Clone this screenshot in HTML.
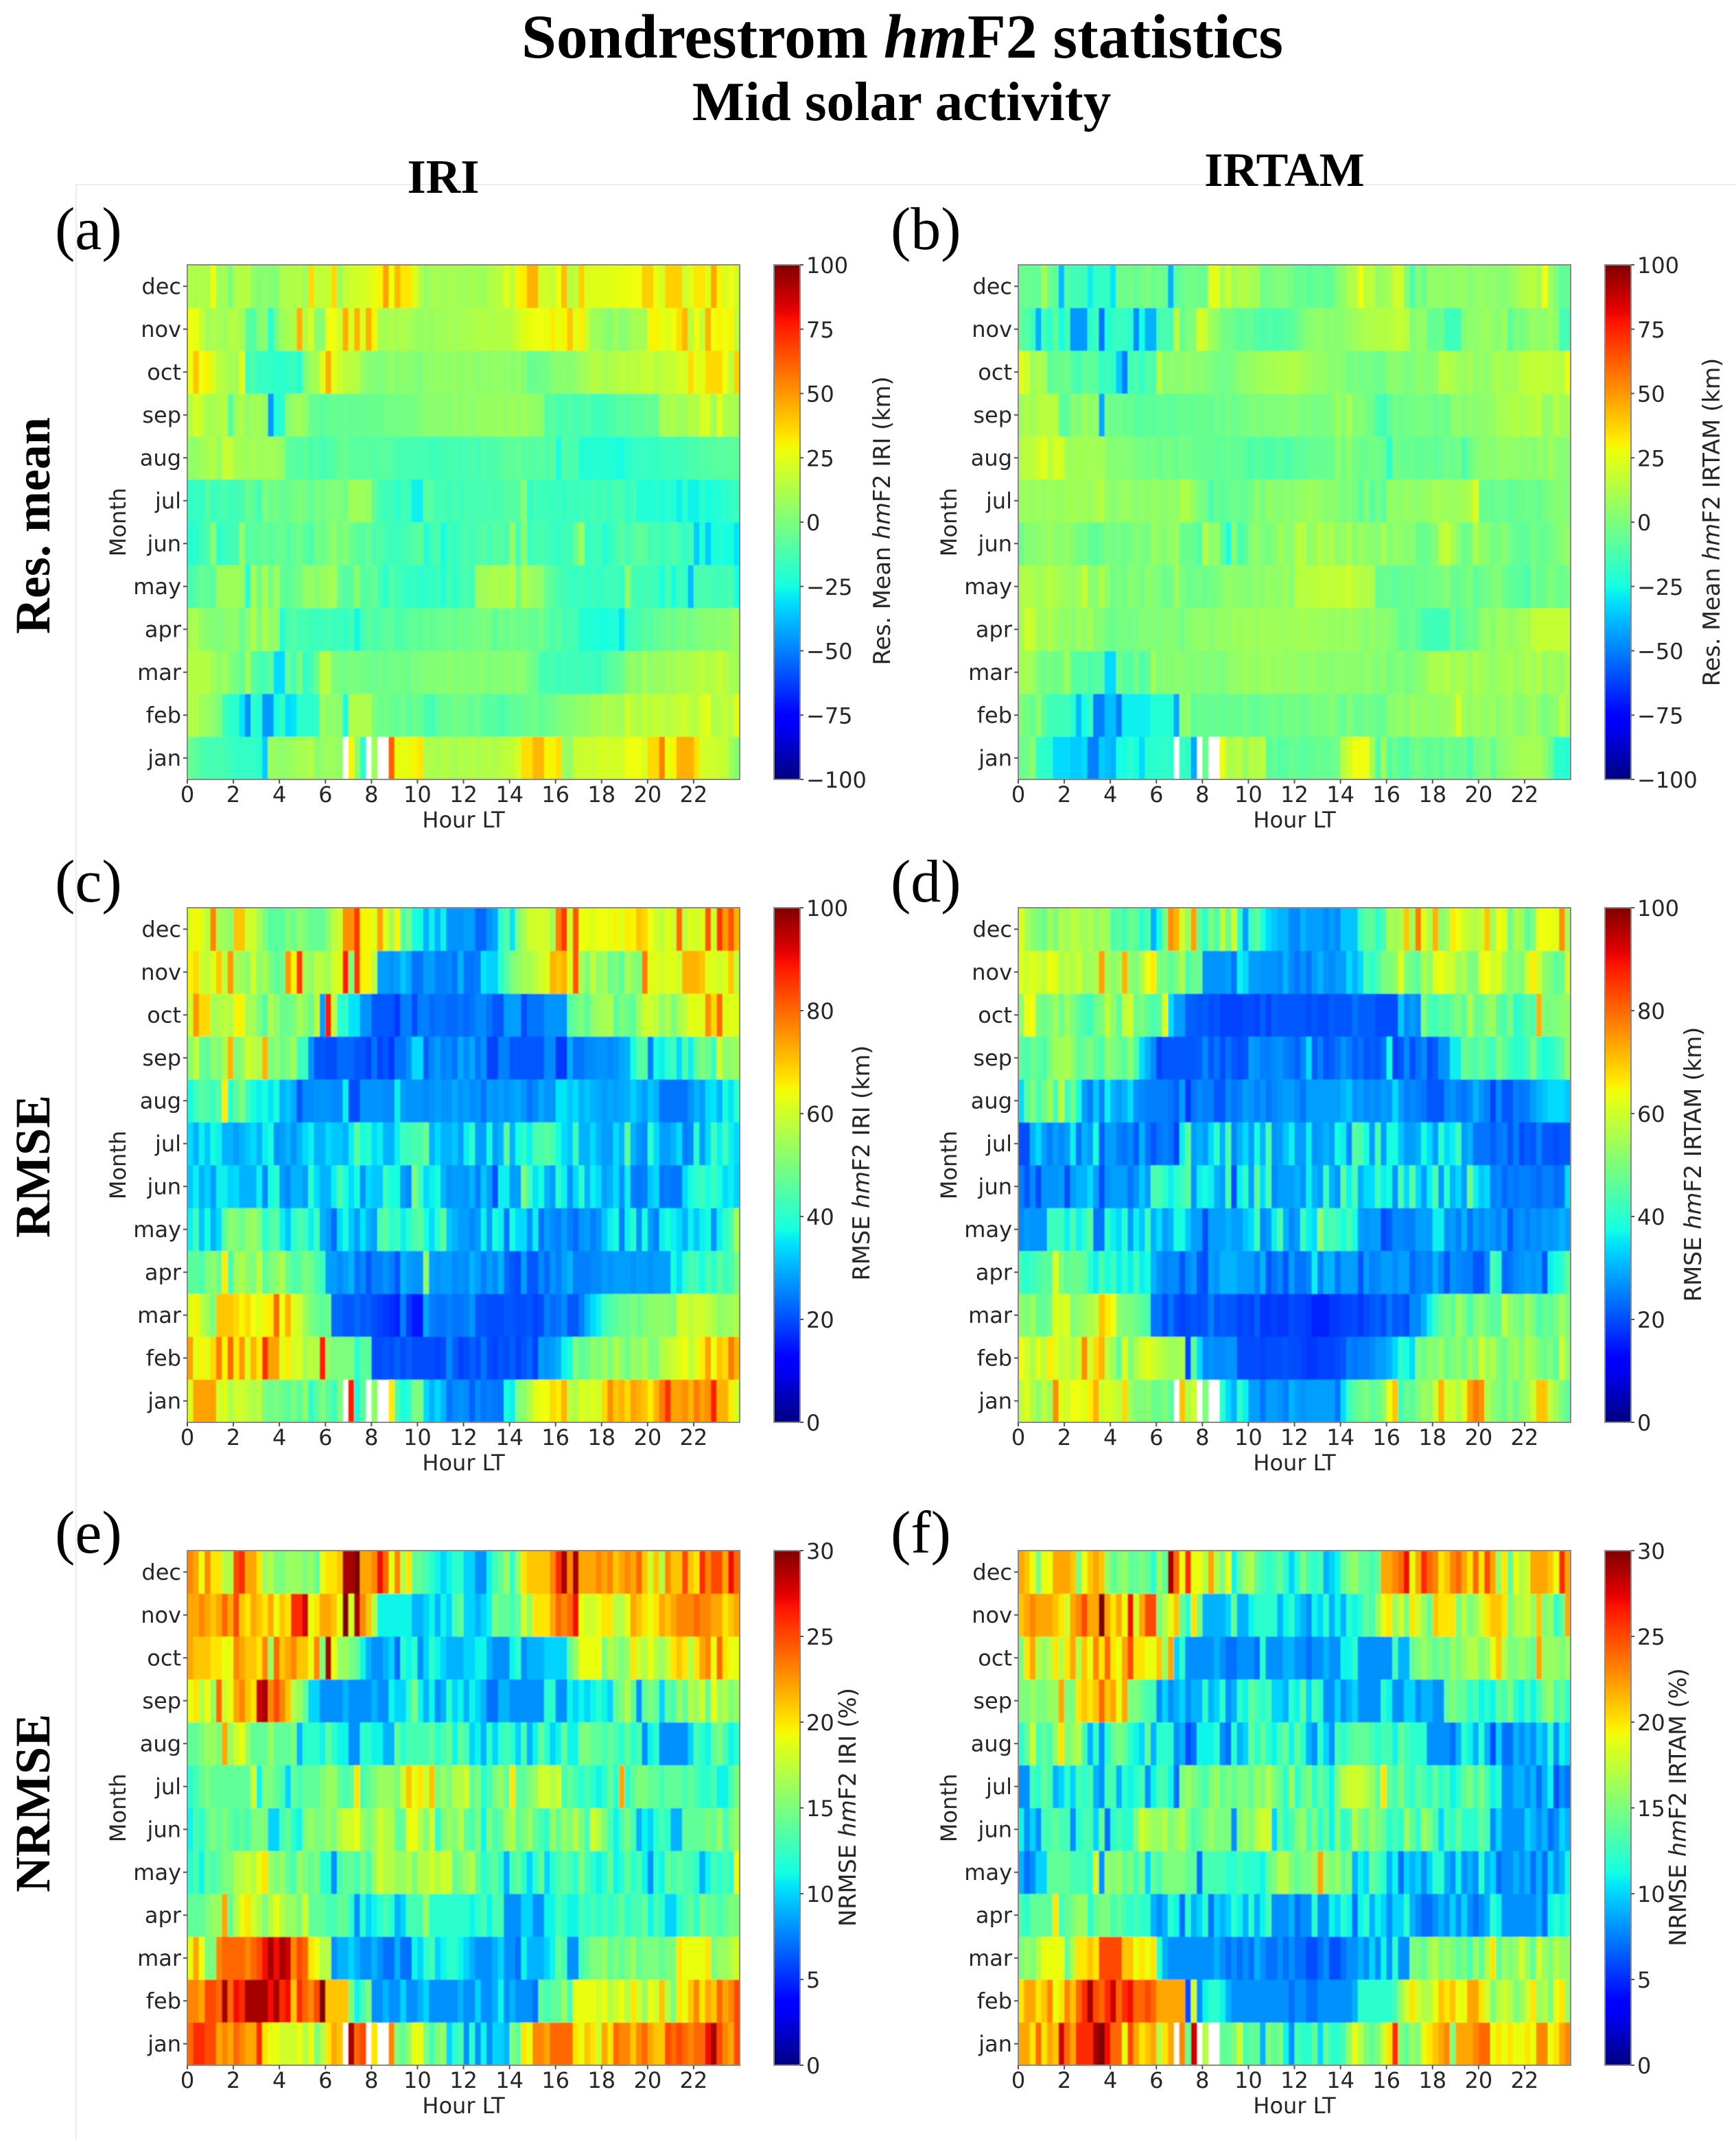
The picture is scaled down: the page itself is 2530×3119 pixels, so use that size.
<!DOCTYPE html>
<html lang="en">
<head>
<meta charset="utf-8">
<title>Sondrestrom hmF2 statistics</title>
<style>
html,body{margin:0;padding:0;background:#fff}
svg{display:block}
.serif{font-family:"Liberation Serif",serif;fill:#000}
.sans{font-family:"DejaVu Sans",sans-serif;fill:#262626}
</style>
</head>
<body>
<svg id="figure" xmlns="http://www.w3.org/2000/svg" width="2530" height="3119" viewBox="0 0 2530 3119">
<defs>
<filter id="soft" x="-2%" y="-2%" width="104%" height="104%"><feGaussianBlur stdDeviation="0.9"/></filter>
</defs>
<rect x="0" y="0" width="2530" height="3119" fill="#fff"/>
<path d="M111 3119V269H2530" fill="none" stroke="#ececec" stroke-width="2"/>
<text class="serif" x="1315" y="84" font-size="91.5" font-weight="bold" text-anchor="middle">Sondrestrom <tspan font-style="italic">hm</tspan>F2 statistics</text>
<text class="serif" x="1314" y="175" font-size="81" font-weight="bold" text-anchor="middle">Mid solar activity</text>
<text class="serif" x="646" y="281" font-size="70" font-weight="bold" text-anchor="middle">IRI</text>
<text class="serif" x="1872" y="271" font-size="70" font-weight="bold" text-anchor="middle">IRTAM</text>
<text class="serif" transform="translate(72,766) rotate(-90)" font-size="72" font-weight="bold" text-anchor="middle">Res. mean</text>
<text class="serif" transform="translate(72,1700) rotate(-90)" font-size="72" font-weight="bold" text-anchor="middle">RMSE</text>
<text class="serif" transform="translate(72,2628) rotate(-90)" font-size="72" font-weight="bold" text-anchor="middle">NRMSE</text>
<text class="serif" x="80" y="363" font-size="88">(a)</text>
<text class="serif" x="1298" y="363" font-size="88">(b)</text>
<text class="serif" x="80" y="1314" font-size="88">(c)</text>
<text class="serif" x="1298" y="1314" font-size="88">(d)</text>
<text class="serif" x="80" y="2263" font-size="88">(e)</text>
<text class="serif" x="1298" y="2263" font-size="88">(f)</text>
<g id="panels"></g>
<text class="sans" transform="translate(1297,759) rotate(-90)" font-size="33.6" text-anchor="middle">Res. Mean <tspan font-style="italic">hm</tspan>F2 IRI (km)</text>
<text class="sans" transform="translate(2506,761) rotate(-90)" font-size="33.6" text-anchor="middle">Res. Mean <tspan font-style="italic">hm</tspan>F2 IRTAM (km)</text>
<text class="sans" transform="translate(1267,1695) rotate(-90)" font-size="33.6" text-anchor="middle">RMSE <tspan font-style="italic">hm</tspan>F2 IRI (km)</text>
<text class="sans" transform="translate(2479,1697) rotate(-90)" font-size="33.6" text-anchor="middle">RMSE <tspan font-style="italic">hm</tspan>F2 IRTAM (km)</text>
<text class="sans" transform="translate(1247,2634) rotate(-90)" font-size="33.6" text-anchor="middle">NRMSE <tspan font-style="italic">hm</tspan>F2 IRI (%)</text>
<text class="sans" transform="translate(2457,2634) rotate(-90)" font-size="33.6" text-anchor="middle">NRMSE <tspan font-style="italic">hm</tspan>F2 IRTAM (%)</text>
</svg>
<script>
const N = null;
const monthLabels = ['jan','feb','mar','apr','may','jun','jul','aug','sep','oct','nov','dec'];
const hourTickLabels = [0,2,4,6,8,10,12,14,16,18,20,22];
const resMeanTicks = [-100,-75,-50,-25,0,25,50,75,100];
const rmseTicks = [0,20,40,60,80,100];
const nrmseTicks = [0,5,10,15,20,25,30];

/* (a) Res. mean IRI, km */
const a_dec=[13,12,12,12, 27,8,10,0, 13,14,14,5, 2,4,2,2, 12,12,12,14, 8,36,17,17, 18,36,8,17, 20,20,22,23, 26,30,48,28, 43,33,33,24, 14,6,10,10, 9,10,10,9, 8,10,9,8, 12,14,15,25, 16,30,32,44, 44,21,21,18, 28,42,14,17, 38,23,24,24, 25,25,26,26, 27,28,28,38, 38,27,22,38, 38,38,20,25, 33,33,24,47, 30,22,28,20];
const a_nov=[28,27,18,8, 12,10,8,14, 13,10,-8,-10, 2,3,-22,-2, 8,10,12,45, 14,22,3,3, 28,28,20,45, 22,44,22,45, 30,10,10,12, 10,12,10,8, 6,8,6,9, 8,10,9,10, 11,12,12,14, 12,13,14,13, 15,20,24,26, 28,28,26,32, 26,30,40,24, 32,18,8,8, 4,3,8,3, 4,10,10,10, 30,30,26,24, 28,35,43,15, 28,18,44,28, 30,28,30,16];
const a_oct=[28,40,28,30, 22,15,12,10, 10,25,-14,-12, -18,-17,-18,-20, -20,-18,-16,-22, 0,8,10,25, 45,25,20,15, 15,14,5,3, 2,0,3,5, 2,4,3,2, 0,5,4,6, 5,5,6,4, 5,6,3,5, 4,6,4,5, 3,6,2,-5, -4,-3,-2,2, 3,4,3,5, 8,10,14,14, 10,12,13,16, 14,16,15,18, 18,14,16,18, 18,22,22,35, 25,25,36,36, 36,28,16,38];
const a_sep=[14,22,18,10, 10,12,14,-10, 8,12,5,8, 10,5,-45,-22, -20,3,6,10, 5,-5,-6,-8, -6,-5,-6,-5, -6,-4,-6,-4, -5,-4,-3,-2, -2,-2,-1,-2, 2,3,4,3, 4,3,5,4, 5,4,6,6, 7,6,8,5, 8,6,8,6, 5,4,-10,-9, -13,-12,-10,-14, -12,-10,-14,-15, -14,-12,-10,-8, -10,-7,-8,-6, -5,-7,10,10, 12,8,9,14, 12,22,22,8, 25,12,12,10];
const a_aug=[5,6,8,10, 14,6,18,18, 10,9,8,10, 8,9,10,8, 6,-8,-9,-10, -7,-12,-10,-14, -11,-10,-6,-5, -9,-8,-9,-8, -10,-9,-8,-10, -12,-14,-12,-13, -14,-13,-16,-15, -14,-13,-12,-14, -13,-11,-14,-10, -12,-11,-9,-7, -8,-6,-9,-8, -10,-8,-11,-7, -25,-10,-12,-12, -22,-22,-22,-21, -22,-22,-23,-25, -20,-18,-17,-16, -18,-17,-16,-15, -16,-15,-14,-12, -12,-10,-10,-9, -8,-9,-8,-8];
const a_jul=[-18,-17,-18,-9, -16,-14,-12,-16, -14,-12,-5,-8, -14,0,-4,-2, -6,-4,-2,0, -2,-6,-1,-2, 0,2,0,-2, 8,9,8,7, -6,-14,-16,-14, -20,-14,-17,-28, -28,-8,-10,-14, -13,-16,-12,-15, -12,-14,-12,-14, -11,-13,-12,-8, -10,-8,2,-18, -14,-16,-15,-17, -16,-18,-15,-17, -14,-16,-13,-15, -14,-16,-12,-13, -18,-14,-22,-22, -22,-20,-23,-20, -22,-28,-20,-27, -27,-20,-24,-22, -22,-20,-18,-16];
const a_jun=[-22,-20,-15,-12, 3,-20,-16,-14, -14,5,-10,-8, -8,-6,-8,-6, -4,-10,-6,-3, -8,-12,-2,-4, 0,5,-2,2, -4,-8,-10,-6, -12,-10,-14,-16, -16,-14,-12,-10, -7,-22,-14,-12, -25,-15,-18,-14, -12,-14,-11,-9, -14,-8,-10,-12, 6,-14,4,-16, -14,-12,-14,-16, -18,-14,-16,-4, 8,-18,-16,-14, -22,-18,-14,-8, -14,-10,-6,-8, -14,-12,-16,-14, -10,-14,-18,-15, -35,-22,-35,-24, -22,-25,-24,-30];
const a_may=[-12,-10,-5,-7, -8,7,8,9, 8,6,-20,10, -2,10,-2,8, -6,-8,-4,-2, 5,6,3,7, 8,10,-6,-10, -8,4,-10,-8, -6,-14,-20,-10, -14,-16,-18,-17, -20,-18,-18,-16, -22,-14,-20,-14, -12,-16,8,9, 10,12,10,11, 14,-2,12,8, 6,5,-6,-8, -12,-14,-16,-17, -15,-18,-16,-18, -16,-15,-14,-18, 4,-12,-16,-14, -14,-16,-24,-12, -24,-15,-18,-38, -12,-13,-12,-14, -15,-14,-12,-25];
const a_apr=[10,12,5,3, 2,0,3,4, 5,-5,3,12, 0,12,4,6, -22,-12,-10,-14, -13,-15,-16,-15, -14,-16,-15,-18, -14,-26,-14,-8, -12,-10,-8,-7, -12,-10,-8,-6, -8,-4,-7,-5, -4,-3,-6,-2, -4,-2,-3,0, -1,-8,-2,-4, -2,-4,-3,-5, -6,-3,-7,-12, -8,-14,-12,-14, -22,-22,-22,-23, -24,-23,-22,-30, -16,-14,-12,-8, -10,-6,-5,-2, -4,-1,0,-3, 0,2,3,2, 4,3,6,8];
const a_mar=[14,14,14,14, 8,4,8,2, -2,-6,8,-8, -12,-14,-8,-32, -32,-6,-14,0, -18,-14,-4,14, 14,0,-2,-2, 0,-1,-2,-3, -4,-2,-4,-2, -3,-2,-4,0, 0,2,1,3, 1,4,2,3, 1,3,2,3, 0,3,1,4, 2,4,3,-2, -4,-12,-14,-13, -15,-14,-16,-14, -16,-15,-16,-17, -12,-8,-8,-5, 3,6,2,10, 4,7,6,10, 8,12,10,12, 14,16,12,14, 18,14,10,10];
const a_feb=[13,13,8,6, 4,0,-15,-20, -20,-30,-47,-20, -22,-45,-45,-25, -18,-32,-30,-20, -20,-20,-18,8, 4,5,3,-25, 12,13,12,12, 0,-4,-2,-5, -6,-3,-8,-4, -6,-12,-14,-8, -4,-6,-2,-3, -4,-6,-3,-8, -10,-8,-12,-10, -6,-8,-5,-4, -3,-6,-4,-3, 0,2,1,4, 6,5,10,8, 12,10,11,9, 20,14,12,17, 15,18,16,14, 16,18,20,16, 14,22,25,12, 14,18,13,25];
const a_jan=[-5,-8,-12,-13, -14,-12,-14,-15, -18,-18,-18,-18, -20,-35,8,6, 4,6,8,10, 10,14,3,6, 8,8,5,N, 30,5,-20,N, 8,N,N,62, 26,26,26,30, 33,12,12,10, 14,12,10,13, 12,14,11,13, 14,12,15,16, 17,22,35,35, 43,43,30,30, 35,8,5,18, 19,20,18,21, 22,20,22,21, 28,28,28,22, 36,36,55,27, 30,45,45,45, 35,22,20,20, 18,18,8,3];

/* (b) Res. mean IRTAM, km */
const b_dec=[-5,-4,-6,-6, 10,-4,-8,-38, -10,-14,-14,-16, -28,-18,-18,-18, -30,-2,-4,-2, -6,-2,0,-4, -3,-5,-40,-8, -5,-2,-3,-4, -5,25,25,10, 20,8,12,14, 10,9,-3,-2, 0,2,0,-2, -6,-4,-8,-6, -4,-8,-6,2, 4,12,13,28, 15,16,6,8, 10,20,20,2, -12,2,-5,6, 4,6,4,5, 6,6,2,5, 6,4,5,3, 2,6,8,12, 14,15,10,28, 8,0,-8,-6];
const b_nov=[-8,-10,-16,-40, -14,-20,-8,-24, -14,-45,-45,-45, -20,-16,-52,-22, -18,-16,-18,-20, -47,-25,-40,-40, -14,-12,-14,15, -5,0,2,22, 18,8,6,-2, -2,-4,-8,-6, -6,-10,-12,-10, -12,-11,-9,-8, -5,0,3,4, 6,2,4,3, 5,6,8,10, 12,12,14,13, 14,16,18,14, 2,4,6,-6, -6,-4,-15,-16, -15,2,5,4, 6,8,4,3, 8,-8,0,-2, 3,6,4,5, 8,3,-14,-14];
const b_oct=[25,20,8,12, 10,-8,-5,-4, -3,-10,-14,-6, -8,-8,-18,-16, -18,-35,-50,-14, -12,-18,-10,-12, 14,2,5,3, 4,6,3,4, 2,0,-2,-3, -2,0,4,5, 6,8,9,10, 10,12,11,13, 12,10,8,6, 7,5,3,4, 2,-2,0,-3, -1,-2,-4,-3, 3,4,2,-1, 0,5,3,2, 4,14,14,12, 8,7,10,4, 6,4,8,12, 8,10,10,15, 17,17,17,17, 16,15,14,27];
const b_sep=[8,12,8,14, 15,15,15,-8, -8,3,0,8, 4,6,-42,-2, -5,-3,-6,-4, -8,-9,-7,-8, -6,-6,-8,-6, -4,-6,-5,-4, -4,-6,-3,-5, -2,-4,-3,-1, 0,1,-1,2, 0,2,1,3, 2,-1,1,-2, 0,-1,1,8, 2,10,1,3, -2,-4,-12,-15, -8,-2,-4,-3, -2,-1,0,-2, -4,-2,-5,3, 5,2,4,3, 4,5,6,10, 10,12,14,10, 12,14,16,5, 6,14,8,10];
const b_aug=[13,15,16,20, 25,15,22,22, 9,8,10,9, 10,9,10,4, 2,3,1,2, -1,-2,-3,-1, -4,-3,-2,-4, -2,-3,-5,-4, -6,-5,-7,-6, -5,-7,-6,-9, -12,-8,-10,-12, -10,-8,-12,-10, -7,-8,-6,-5, -6,-4,-5,4, -2,3,-2,-4, -5,-2,-3,-6, -20,-3,-4,-6, -4,-7,-6,-5, -7,-6,-3,-5, -2,-12,-4,1, 3,4,2,5, 6,4,5,3, 4,2,5,3, 8,4,2,3];
const b_jul=[7,8,6,8, 6,8,7,6, 9,10,8,9, 7,11,14,6, 3,5,7,6, 3,5,4,6, 5,3,6,4, 12,13,4,0, -3,-12,-5,-8, -6,-4,-5,-6, -2,4,-2,6, 3,2,4,3, 5,6,8,7, 6,3,4,2, -1,2,-2,-8, 1,-9,-2,-8, 6,5,4,7, 5,4,6,7, 10,9,8,7, 8,10,12,24, -5,-4,-6,-3, -5,-7,-5,-4, -3,-4,-6,-2, 0,2,3,1];
const b_jun=[-5,3,2,4, 5,8,4,3, 6,2,-2,-1, -6,-8,-4,0, -3,-1,-4,-2, 2,0,-2,6, 4,2,5,7, -5,-4,-6,-10, 13,3,6,-8, -25,3,-12,-8, 3,5,0,-2, 3,9,4,3, 14,15,4,7, 13,8,12,4, 6,11,2,8, 4,3,2,10, 2,5,4,2, 3,-4,-6,-2, 2,15,18,10, 3,-5,-2,12, 4,3,-2,-1, 3,-3,-6,-8, -7,-2,-4,-6, -2,0,3,5];
const b_may=[12,13,12,9, 11,14,12,8, 8,5,9,18, 4,3,12,5, -3,0,-2,3, 2,-2,4,2, 0,-4,-3,7, 0,-5,-3,-2, -4,-2,-1,3, 5,4,4,2, 3,5,3,7, 4,5,8,2, 14,15,14,15, 17,17,16,17, 17,20,15,14, 13,12,-6,-4, -5,-8,-6,-4, -6,-2,-4,-3, -2,-1,2,-4, -6,-2,0,-8, -4,-2,0,2, -4,-7,-8,-9, -12,-2,-6,-4, 1,-3,-5,-2];
const b_apr=[10,20,18,9, 8,12,8,4, 6,2,8,5, 10,2,2,-3, -4,-2,-1,-3, -1,2,1,2, 0,3,2,1, -2,3,4,5, 6,3,5,7, 5,8,7,9, 8,7,10,8, 9,8,7,9, 8,10,8,9, 7,8,6,8, 6,8,7,5, 2,6,3,4, 2,0,-7,-6, -3,-8,-14,-14, -16,-14,-15,-2, -10,-6,-3,-4, 4,6,3,8, 8,6,7,10, 10,16,18,18, 17,18,18,17];
const b_mar=[10,10,8,0, -3,-1,-4,-1, 8,-8,-10,-8, -12,-9,-10,-32, -32,-4,-8,-10, -2,-12,-6,8, 0,3,2,4, 3,2,1,3, 0,2,1,-1, 4,5,6,8, 7,6,7,8, 6,8,5,7, 6,4,5,6, 3,4,2,4, 4,3,4,2, 5,3,1,4, -2,0,3,-2, 0,2,4,10, 12,10,14,8, 12,10,6,13, 9,7,5,8, 9,11,6,8, 12,8,14,5, 10,8,6,12];
const b_feb=[0,-2,-6,4, -8,-15,-15,-15, -15,-20,-38,-25, -18,-50,-50,-38, -38,-50,-28,-28, -28,-28,-28,-22, -22,-22,-22,-42, 3,5,-8,-4, -5,-6,-4,-6, -5,-4,-6,-2, -6,-7,-5,-4, -2,-6,-1,-3, -2,-5,-3,0, -2,-1,3,-3, -6,1,-4,-5, -2,-3,-5,-6, 3,4,6,2, 8,4,6,5, 4,7,6,10, 22,8,5,9, 6,5,8,3, 6,8,3,2, 6,10,4,-2, 3,4,16,8];
const b_jan=[-5,-3,4,-18, -20,-20,-32,-32, -32,-35,-35,-32, -50,-50,-35,-38, -40,-25,-25,-20, -24,-32,-20,-20, -20,-18,-20,N, -18,-18,-42,N, -5,N,N,28, 12,12,15,6, 14,12,16,-8, -6,-10,-8,-5, -6,-9,-7,-6, -4,-6,-5,-2, 15,20,28,28, 28,10,-10,8, -10,-4,-10,-12, -5,-2,-6,-8, -4,-8,-2,-5, -6,-4,-12,-2, 0,3,-6,2, 4,6,8,10, 10,10,10,4, -4,-20,-20,-22];

/* (c) RMSE IRI, km */
const c_dec=[62,65,62,58, 77,55,54,52, 70,70,60,60, 55,50,45,46, 46,50,48,52, 50,47,47,47, 52,58,60,76, 76,85,65,65, 62,74,62,55, 65,45,48,38, 38,30,36,30, 36,27,27,27, 28,28,23,23, 27,29,40,45, 35,50,55,60, 60,61,60,55, 78,85,60,82, 64,63,62,64, 64,63,65,62, 66,65,70,68, 64,60,58,62, 60,80,58,62, 60,62,82,60, 85,75,82,72];
const c_nov=[65,68,60,58, 62,70,58,75, 55,54,52,60, 52,55,50,46, 48,75,65,85, 55,52,58,56, 55,60,62,88, 50,85,65,65, 58,28,28,27, 28,32,29,24, 24,28,28,25, 25,26,24,30, 24,24,25,35, 33,33,40,45, 50,52,55,55, 58,60,62,72, 70,72,62,82, 55,50,58,52, 55,48,50,46, 55,52,50,78, 62,62,60,62, 62,60,72,72, 72,70,62,62, 60,62,70,58];
const c_oct=[60,75,68,68, 55,56,58,56, 65,65,55,55, 50,45,56,52, 48,48,50,55, 52,48,58,28, 88,58,40,40, 35,35,27,27, 21,21,21,21, 18,25,25,20, 25,25,23,24, 24,23,23,24, 23,24,26,26, 24,21,21,28, 28,28,20,24, 24,24,27,27, 27,27,45,48, 50,46,52,54, 55,56,46,50, 48,46,54,60, 60,58,52,56, 50,55,58,63, 62,62,76,68, 80,62,62,62];
const c_sep=[52,58,48,46, 52,50,56,72, 50,52,60,58, 56,72,50,52, 48,50,54,42, 42,27,21,21, 20,20,23,23, 23,21,21,19, 24,19,21,18, 24,24,27,34, 34,22,26,28, 25,26,24,29, 26,29,24,27, 19,19,25,25, 21,21,21,21, 21,21,26,26, 18,18,29,24, 24,26,26,27, 27,26,27,29, 30,38,45,46, 25,38,36,40, 42,34,44,36, 46,50,48,42, 60,52,52,54];
const c_aug=[38,42,46,44, 42,45,66,40, 46,50,42,38, 36,38,35,38, 30,32,29,21, 26,26,27,27, 27,26,26,36, 20,20,27,27, 27,27,26,26, 36,28,27,27, 27,26,27,28, 27,27,29,27, 28,26,27,24, 28,27,28,27, 28,29,27,24, 26,29,27,27, 35,35,32,34, 30,32,30,29, 28,29,28,29, 30,33,30,28, 32,30,24,24, 24,24,24,27, 30,28,34,35, 30,38,35,40];
const c_jun=[32,36,30,33, 28,36,36,33, 34,30,30,30, 36,26,38,40, 28,26,30,30, 28,40,34,30, 30,36,44,38, 34,38,27,34, 32,32,42,38, 38,28,26,50, 42,34,36,38, 30,27,28,28, 27,30,25,32, 28,20,36,36, 28,28,50,42, 35,38,30,28, 40,36,27,34, 40,30,36,34, 28,30,34,27, 36,25,24,25, 32,34,24,25, 24,24,34,38, 40,42,38,42, 38,34,36,33];
const c_jul=[34,30,36,32, 38,36,30,30, 28,30,32,34, 30,36,38,27, 28,30,27,30, 34,36,30,30, 34,32,32,30, 36,46,38,40, 34,36,30,30, 36,42,42,44, 44,48,30,34, 30,30,32,28, 36,40,28,28, 38,28,30,46, 30,38,40,36, 44,44,46,44, 38,34,32,42, 30,30,34,30, 28,28,34,30, 46,30,27,26, 40,34,28,28, 30,34,25,26, 40,28,34,42, 36,42,36,34];
const c_may=[36,42,32,38, 30,34,46,52, 50,48,52,54, 50,40,44,46, 36,32,40,44, 42,36,42,30, 28,23,34,38, 32,28,35,30, 28,44,46,40, 42,36,40,44, 46,38,34,40, 46,32,30,28, 28,26,28,36, 28,38,36,24, 38,34,34,27, 36,24,28,26, 25,28,25,23, 27,28,25,27, 32,36,38,25, 36,40,27,38, 28,25,36,38, 36,34,30,36, 32,36,38,27, 36,40,44,55];
const c_apr=[46,46,44,50, 52,48,66,44, 54,56,52,50, 58,46,50,52, 56,48,44,46, 50,48,44,42, 28,28,26,28, 30,24,26,21, 25,25,27,25, 21,30,28,27, 27,52,28,27, 28,28,26,27, 26,30,28,25, 28,26,30,23, 21,20,28,21, 21,26,23,27, 25,28,30,25, 25,25,26,26, 28,27,28,28, 28,27,28,28, 27,28,28,28, 38,34,40,44, 42,38,44,40, 46,42,44,50];
const c_mar=[62,65,58,54, 50,70,70,70, 68,65,68,64, 62,65,66,80, 64,72,62,60, 54,50,48,46, 48,23,23,21, 21,23,21,22, 20,19,18,17, 16,25,18,15, 15,29,25,24, 24,25,24,24, 25,27,21,21, 20,20,20,21, 21,20,20,21, 19,20,25,23, 24,26,21,21, 25,30,34,36, 42,44,46,48, 48,50,48,50, 52,52,52,52, 50,60,60,58, 60,60,58,56, 52,54,54,56];
const c_feb=[74,62,65,62, 68,78,65,80, 66,75,62,72, 66,86,74,74, 62,66,60,62, 55,58,56,88, 52,50,50,50, 50,40,46,46, 20,20,21,20, 22,20,22,20, 20,20,20,19, 20,26,22,19, 20,22,20,24, 20,19,21,20, 22,19,21,23, 19,28,27,28, 30,36,38,50, 46,48,52,50, 54,50,56,52, 48,54,52,56, 50,50,56,58, 60,62,64,58, 62,66,74,64, 70,68,78,72];
const c_jan=[62,74,74,74, 74,60,62,56, 60,60,58,56, 58,50,48,50, 48,46,50,46, 52,40,46,50, 46,42,50,N, 88,38,46,N, 52,N,N,66, 44,38,40,50, 50,34,30,34, 30,24,26,27, 26,22,26,24, 25,24,24,38, 36,50,52,56, 62,64,64,68, 66,72,58,56, 62,60,62,60, 68,76,70,72, 68,74,72,70, 66,72,78,86, 74,74,76,72, 78,74,76,88, 72,72,66,60];

/* (d) RMSE IRTAM, km */
const d_dec=[62,55,52,50, 48,54,50,56, 54,58,56,54, 56,52,55,54, 44,46,42,48, 46,40,44,30, 38,50,76,72, 60,54,74,46, 40,50,44,58, 48,60,40,28, 42,46,38,34, 32,30,30,26, 26,30,28,28, 28,26,28,26, 32,32,32,42, 46,46,40,44, 56,54,56,70, 54,78,62,56, 72,52,54,66, 64,60,58,56, 60,70,54,64, 62,48,56,54, 46,50,64,64, 64,62,76,55];
const d_nov=[62,60,62,60, 58,64,62,56, 58,56,60,54, 54,56,74,54, 52,54,72,52, 50,56,64,66, 50,50,46,50, 56,44,48,48, 27,27,27,27, 28,24,36,34, 28,28,27,27, 27,26,30,26, 24,27,24,28, 30,27,26,28, 28,34,30,34, 44,40,44,50, 50,52,62,50, 48,46,56,52, 62,64,60,60, 54,56,50,50, 62,64,60,62, 54,50,52,50, 60,66,60,52, 50,46,48,60];
const d_oct=[52,64,64,50, 48,50,54,48, 54,50,46,44, 42,48,50,58, 52,46,58,60, 48,50,46,44, 46,62,34,28, 28,22,22,21, 22,20,21,19, 19,19,19,20, 20,19,22,19, 22,21,21,21, 21,21,20,21, 20,20,22,21, 21,21,24,22, 22,22,20,20, 20,20,32,26, 28,26,50,44, 42,46,44,48, 50,46,56,48, 48,52,54,46, 44,50,40,42, 46,44,72,50, 50,50,52,52];
const d_sep=[46,44,48,46, 44,50,54,54, 56,52,46,48, 50,46,44,52, 50,48,46,52, 44,34,30,26, 19,21,21,21, 21,21,21,22, 26,21,24,20, 24,21,20,21, 28,27,25,25, 26,27,25,24, 22,26,34,22, 25,21,22,24, 27,25,22,24, 21,22,21,24, 38,19,21,26, 20,24,26,20, 22,27,27,36, 36,48,46,44, 48,44,42,50, 46,42,40,40, 44,50,42,38, 40,42,46,52];
const d_aug=[34,46,50,44, 48,54,44,58, 42,48,38,28, 25,32,26,36, 30,28,30,34, 27,26,25,25, 25,25,24,22, 28,18,24,26, 25,25,21,21, 26,24,25,28, 27,25,27,24, 26,27,28,28, 26,24,28,28, 28,28,28,28, 30,32,27,28, 26,27,26,28, 27,34,28,25, 26,25,24,21, 21,21,26,27, 25,24,26,30, 27,25,19,26, 21,21,25,24, 25,28,30,32, 34,34,34,32];
const d_jul=[20,20,30,34, 28,25,28,26, 28,36,24,30, 28,38,22,28, 28,25,24,26, 22,30,24,21, 24,25,24,19, 36,46,28,30, 28,34,40,30, 44,26,30,34, 28,38,30,44, 27,28,32,36, 28,28,36,27, 28,30,28,38, 36,26,46,44, 38,28,44,28, 38,38,32,28, 28,30,38,34, 28,40,34,36, 42,28,30,24, 24,24,22,24, 25,21,25,20, 22,21,25,21, 21,20,21,21];
const d_jun=[25,21,26,20, 27,27,27,28, 20,28,30,30, 34,28,20,27, 28,28,28,24, 27,32,28,44, 44,40,36,40, 42,46,27,36, 38,36,30,28, 44,20,36,40, 28,46,34,44, 26,28,28,28, 30,27,36,30, 28,42,30,27, 46,36,44,30, 34,34,42,36, 38,27,44,34, 46,34,28,36, 44,28,40,30, 34,28,48,36, 32,34,25,26, 23,25,24,25, 25,24,23,25, 25,23,24,34];
const d_may=[26,28,27,27, 27,42,42,42, 36,44,36,40, 46,24,24,40, 36,34,40,28, 36,32,42,30, 34,28,30,38, 38,32,28,28, 20,28,28,28, 30,28,28,32, 34,42,26,28, 36,44,30,26, 28,42,36,34, 52,42,44,42, 38,44,38,28, 27,28,28,20, 22,26,26,25, 25,28,28,28, 36,36,27,28, 25,30,24,28, 26,28,27,25, 28,21,26,27, 25,27,26,28, 27,28,30,28];
const d_apr=[42,40,42,44, 46,46,62,50, 46,48,48,46, 40,36,44,38, 42,36,40,36, 42,36,38,30, 27,25,26,26, 21,26,28,21, 20,28,27,30, 30,30,28,28, 28,25,30,21, 24,26,21,28, 24,24,26,36, 25,30,30,24, 28,28,28,21, 28,25,26,28, 28,26,28,28, 23,25,26,25, 30,26,21,27, 26,25,25,21, 21,26,44,40, 23,24,26,27, 28,27,28,21, 36,38,40,46];
const d_mar=[52,50,54,48, 46,50,62,60, 62,50,52,54, 56,58,70,66, 64,52,50,50, 48,46,44,24, 24,20,24,20, 19,20,21,20, 21,25,21,22, 21,21,19,20, 19,22,18,18, 19,18,18,20, 19,19,18,16, 16,16,18,18, 19,19,20,18, 20,21,22,20, 24,21,22,20, 26,26,30,36, 42,46,50,46, 54,50,44,50, 52,48,46,46, 58,52,50,48, 54,50,44,48, 46,50,54,50];
const d_feb=[64,60,56,62, 58,66,62,58, 60,56,60,76, 60,68,72,58, 54,46,62,50, 56,60,62,60, 58,56,54,54, 56,19,46,34, 26,27,26,26, 27,27,20,20, 20,20,19,20, 20,20,21,20, 20,19,18,18, 19,19,19,20, 21,25,24,25, 25,26,28,28, 30,34,40,38, 34,50,48,52, 50,54,48,50, 52,48,54,50, 60,54,56,50, 48,52,54,50, 56,54,50,48, 50,46,60,52];
const d_jan=[58,62,56,52, 58,54,76,62, 60,64,64,62, 66,72,60,62, 60,58,68,54, 50,50,52,48, 48,50,46,N, 70,56,60,N, 50,N,N,40, 34,30,40,36, 28,28,24,28, 28,27,25,30, 28,27,28,28, 28,28,28,24, 34,42,46,48, 50,46,48,52, 64,70,42,48, 46,50,54,52, 60,72,60,60, 56,62,74,78, 76,56,52,50, 48,52,48,52, 54,60,70,70, 58,54,50,46];

/* (e) NRMSE IRI, % */
const e_dec=[23,22,19,23, 20,20,17,17, 25,26,22,22, 20,16,17,15, 15,16,16,16, 15,16,14,19, 20,20,21,29, 29,30,22,22, 23,27,24,19, 23,17,20,14, 14,13,12,11, 10,11,12,12, 10,10,8,8, 11,13,14,16, 12,16,20,21, 21,21,21,23, 26,29,23,29, 22,22,22,23, 22,23,21,22, 23,22,24,21, 18,21,17,23, 21,21,25,21, 20,26,23,25, 25,22,27,24];
const e_nov=[22,22,23,22, 21,22,24,22, 25,21,20,22, 21,20,22,19, 21,20,26,26, 28,19,20,22, 22,21,19,30, 18,29,23,21, 17,11,11,11, 11,11,11,9, 9,10,11,9, 11,10,13,14, 10,10,9,10, 11,15,14,14, 13,14,18,16, 20,20,20,22, 24,23,24,27, 19,18,18,19, 20,20,17,17, 19,22,21,20, 19,20,22,21, 22,23,23,23, 24,23,23,22, 22,20,21,22];
const e_oct=[22,21,21,21, 20,20,19,19, 23,22,21,21, 20,23,16,24, 21,22,23,21, 21,19,23,15, 29,19,16,16, 15,14,11,9, 8,8,9,10, 7,12,11,12, 8,10,12,11, 10,9,9,9, 10,10,11,11, 9,8,8,8, 11,12,8,9, 9,9,10,10, 10,10,14,16, 19,19,19,19, 15,17,16,15, 16,20,18,17, 19,17,16,18, 20,21,20,17, 20,22,23,19, 24,20,19,19];
const e_sep=[19,20,17,19, 16,24,18,19, 22,23,21,20, 28,29,23,25, 23,21,17,16, 14,10,10,8, 8,8,8,9, 8,8,8,8, 9,8,8,11, 10,10,12,15, 11,9,11,8, 9,12,10,11, 9,11,10,9, 7,7,9,9, 8,8,8,8, 8,8,12,12, 8,8,11,10, 11,10,11,12, 11,10,14,15, 17,14,8,14, 15,14,10,14, 13,16,14,17, 16,18,14,19, 16,17,15,16];
const e_aug=[14,14,15,16, 16,15,22,16, 18,19,16,14, 14,14,16,14, 14,14,15,9, 12,12,12,11, 14,12,11,11, 8,8,12,12, 11,11,9,9, 14,12,13,13, 13,13,14,12, 13,14,11,14, 13,10,11,9, 12,10,12,13, 12,10,13,9, 11,14,12,10, 11,14,11,11, 15,15,14,14, 13,14,13,12, 14,12,13,8, 11,12,8,8, 8,8,8,10, 13,12,11,14, 15,13,11,12];
const e_jul=[12,13,14,15, 14,14,14,14, 14,14,14,18, 11,15,15,14, 13,10,14,13, 14,14,14,15, 16,16,14,13, 14,20,13,14, 15,16,16,16, 15,18,21,19, 20,18,21,15, 16,15,17,17, 18,14,15,12, 13,15,16,14, 20,14,14,15, 16,18,18,17, 18,13,14,13, 12,13,12,11, 12,14,12,22, 12,14,15,15, 14,14,13,14, 14,14,13,14, 13,12,12,13, 11,11,13,15];
const e_jun=[11,13,12,14, 15,14,15,14, 13,14,13,15, 15,15,10,10, 13,14,12,11, 15,16,15,15, 16,15,17,18, 18,19,16,15, 16,18,17,17, 14,14,19,19, 17,15,18,12, 15,16,15,17, 14,13,15,11, 15,13,14,16, 17,14,15,16, 14,13,12,16, 14,16,15,17, 15,13,18,17, 15,13,11,13, 15,13,9,11, 10,12,13,12, 9,9,14,14, 14,14,15,14, 16,13,15,16];
const e_may=[12,13,11,14, 13,14,15,15, 17,17,18,17, 19,20,16,15, 16,14,13,16, 15,14,15,12, 12,8,13,14, 14,13,15,13, 16,18,17,17, 16,16,17,15, 17,17,18,17, 18,18,14,15, 16,17,14,12, 13,14,12,9, 13,14,12,10, 12,14,10,12, 13,14,13,12, 15,13,12,11, 12,14,11,12, 14,12,13,11, 8,12,11,14, 13,14,13,13, 12,9,11,13, 12,13,12,19];
const e_apr=[14,14,14,15, 16,16,22,14, 17,19,20,18, 17,15,17,19, 17,16,16,15, 18,14,14,14, 13,13,14,14, 12,8,12,10, 11,12,13,12, 9,10,13,13, 13,16,12,12, 12,12,12,12, 12,11,12,13, 11,13,13,8, 8,8,10,10, 8,8,11,11, 13,12,11,11, 13,12,13,12, 13,12,13,14, 12,13,13,14, 11,13,12,10, 10,12,13,14, 12,15,14,14, 13,14,15,15];
const e_mar=[19,22,19,15, 15,23,24,24, 24,24,23,24, 25,27,29,27, 29,28,23,25, 24,20,19,17, 17,8,9,9, 10,9,8,8, 9,8,7,7, 9,7,7,11, 10,12,13,10, 11,12,12,11, 10,9,8,8, 8,9,10,8, 8,7,11,9, 9,9,10,11, 14,13,8,8, 13,14,15,15, 16,14,15,14, 15,16,14,15, 15,15,14,15, 15,20,19,19, 19,19,20,15, 16,16,17,18];
const e_feb=[23,23,22,25, 25,24,29,24, 27,26,29,29, 29,29,27,29, 26,27,21,26, 24,23,25,30, 21,21,21,21, 15,11,13,15, 8,8,9,8, 8,10,8,8, 9,10,8,8, 8,8,8,9, 8,8,10,8, 8,9,11,8, 9,8,8,8, 7,14,13,14, 14,16,13,19, 19,19,19,18, 19,17,18,19, 17,20,18,16, 19,18,21,17, 15,20,19,21, 23,20,22,21, 24,22,23,25];
const e_jan=[24,26,26,25, 25,22,23,22, 24,23,22,22, 26,20,19,19, 18,18,18,19, 17,19,15,17, 20,22,21,N, 29,24,25,N, 20,N,N,23, 15,14,16,19, 19,15,13,15, 16,10,12,13, 8,12,8,11, 8,10,10,9, 15,14,20,19, 23,23,22,24, 24,24,24,20, 19,21,20,18, 22,20,24,23, 23,21,23,24, 22,21,21,25, 24,25,24,23, 24,24,27,29, 25,23,22,25];

/* (f) NRMSE IRTAM, % */
const f_dec=[22,21,19,15, 19,19,22,22, 22,21,15,19, 21,22,21,16, 14,15,16,14, 14,15,14,12, 16,14,29,24, 19,26,19,19, 17,22,17,15, 19,11,14,16, 17,14,13,12, 13,14,12,10, 12,15,13,12, 13,9,10,11, 14,15,16,14, 14,13,14,22, 22,23,24,27, 19,22,26,24, 23,20,21,23, 24,22,20,24, 20,25,22,16, 20,14,19,17, 18,22,22,22, 21,19,26,22];
const f_nov=[21,22,23,22, 22,22,21,20, 18,22,23,25, 22,22,30,22, 20,22,19,27, 18,22,25,25, 15,17,19,21, 14,12,20,15, 9,9,9,9, 10,14,9,9, 11,12,12,12, 12,9,11,12, 10,9,8,11, 10,12,9,11, 9,12,11,12, 14,13,16,19, 20,16,18,15, 20,18,16,14, 21,20,20,20, 15,17,15,16, 18,20,21,21, 20,15,17,17, 18,16,21,15, 16,12,14,22];
const f_oct=[15,20,22,17, 16,17,20,17, 20,22,17,21, 19,23,20,24, 20,19,22,25, 20,20,19,19, 21,16,22,10, 12,8,8,8, 8,8,9,8, 7,7,8,8, 8,7,12,8, 8,8,9,9, 8,8,7,8, 8,9,8,8, 11,11,12,8, 8,8,8,8, 8,13,9,9, 14,15,16,15, 14,15,14,16, 15,16,17,17, 15,16,19,21, 17,15,15,16, 15,14,22,16, 16,16,15,16];
const f_sep=[15,15,16,15, 15,16,16,22, 15,15,20,21, 20,21,24,21, 22,19,22,15, 15,14,13,13, 8,10,8,9, 10,8,9,9, 12,9,10,12, 8,9,12,11, 14,13,12,13, 10,10,9,12, 11,14,10,13, 12,8,8,10, 8,9,10,8, 8,8,8,12, 11,8,8,10, 10,8,9,9, 8,8,14,15, 14,14,12,13, 11,12,11,14, 13,15,12,11, 13,11,13,15, 16,13,14,12];
const f_aug=[12,14,18,13, 14,13,16,20, 15,16,17,13, 9,12,8,12, 14,15,14,12, 11,10,14,9, 12,12,12,8, 9,6,7,11, 11,11,12,8, 7,12,9,10, 14,12,14,12, 11,13,14,11, 14,12,9,8, 12,10,8,13, 12,13,14,14, 14,13,12,13, 13,11,14,13, 12,12,12,8, 8,8,8,7, 9,12,11,9, 12,9,6,10, 7,7,9,8, 9,8,10,9, 12,8,11,10];
const f_jul=[8,8,13,12, 14,13,9,10, 12,10,13,12, 13,9,8,13, 13,9,12,11, 12,13,8,11, 13,13,11,7, 15,16,15,14, 13,15,16,14, 15,14,15,15, 14,16,15,17, 15,14,12,16, 12,14,15,12, 14,13,11,15, 17,18,18,18, 17,16,14,20, 14,13,15,13, 12,14,13,12, 14,12,13,11, 12,14,15,13, 15,13,11,12, 8,8,9,9, 8,9,7,9, 11,6,8,7];
const f_jun=[11,8,10,8, 13,13,14,13, 13,8,12,13, 13,10,14,7, 12,13,12,12, 15,18,17,16, 16,17,15,16, 17,15,13,14, 15,16,15,15, 15,8,15,16, 15,17,18,18, 10,14,12,13, 15,16,13,15, 12,14,11,15, 12,13,17,15, 14,16,15,14, 12,13,12,16, 14,12,16,15, 13,10,13,12, 14,12,12,12, 14,13,8,10, 8,8,8,8, 10,9,8,9, 7,8,10,9];
const f_may=[9,7,8,10, 10,14,14,14, 14,13,13,13, 12,18,8,16, 15,16,14,15, 13,15,10,14, 13,15,15,15, 15,14,14,7, 13,13,13,13, 12,12,13,12, 12,12,11,14, 15,17,17,15, 14,15,15,16, 22,16,15,16, 14,15,9,11, 10,14,13,12, 9,11,7,10, 9,10,8,10, 12,12,9,8, 11,8,9,8, 12,9,10,7, 8,8,9,8, 9,7,9,7, 10,8,9,11];
const f_apr=[13,12,14,14, 14,14,20,13, 14,15,16,16, 12,14,15,15, 13,14,13,12, 13,12,12,9, 8,9,12,11, 7,12,9,10, 12,7,10,9, 10,12,11,9, 12,9,11,13, 8,8,8,9, 7,8,8,12, 8,8,11,10, 12,11,7,11, 12,9,11,10, 8,10,10,12, 9,8,7,7, 8,9,8,10, 8,10,8,7, 8,9,12,11, 8,8,8,8, 8,8,9,7, 11,12,11,12];
const f_mar=[15,16,15,17, 19,19,19,19, 14,17,20,20, 21,20,25,25, 25,25,21,21, 19,20,19,20, 12,9,8,8, 8,8,8,8, 8,8,9,8, 7,8,7,8, 7,9,8,7, 7,8,7,8, 7,7,6,6, 7,8,6,6, 7,8,8,9, 8,10,8,11, 8,12,8,8, 15,15,14,16, 17,15,16,15, 14,15,13,16, 14,17,20,14, 16,15,16,18, 16,14,18,16, 15,17,16,16];
const f_feb=[20,22,22,20, 21,23,19,20, 23,21,24,26, 29,25,24,26, 28,24,26,27, 24,24,25,24, 22,22,22,22, 22,6,18,8, 11,12,12,11, 9,8,8,8, 8,8,8,8, 8,8,8,7, 8,8,7,7, 8,8,8,8, 8,8,9,12, 12,12,12,12, 12,13,16,18, 20,18,17,17, 19,21,20,21, 19,19,22,22, 20,18,15,17, 18,17,15,16, 18,20,16,17, 15,19,20,16];
const f_jan=[22,22,20,24, 20,22,21,28, 24,22,26,26, 26,29,30,27, 24,24,19,25, 22,20,21,22, 17,20,22,N, 23,14,28,N, 17,N,N,14, 14,15,18,13, 14,14,9,15, 14,15,11,8, 13,12,12,14, 10,14,12,12, 13,16,19,17, 15,14,15,18, 20,26,15,14, 16,15,19,20, 21,22,23,15, 22,22,22,23, 24,24,19,20, 19,20,19,19, 20,19,23,23, 19,20,22,23];

const panelColumns = ['a','c','e','b','d','f'];
const layouts = {
  a:{rows:[a_jan,a_feb,a_mar,a_apr,a_may,a_jun,a_jul,a_aug,a_sep,a_oct,a_nov,a_dec],left:273,top:386,vmin:-100,vmax:100,ticks:resMeanTicks},
  b:{rows:[b_jan,b_feb,b_mar,b_apr,b_may,b_jun,b_jul,b_aug,b_sep,b_oct,b_nov,b_dec],left:1484,top:386,vmin:-100,vmax:100,ticks:resMeanTicks},
  c:{rows:[c_jan,c_feb,c_mar,c_apr,c_may,c_jun,c_jul,c_aug,c_sep,c_oct,c_nov,c_dec],left:273,top:1323,vmin:0,vmax:100,ticks:rmseTicks},
  d:{rows:[d_jan,d_feb,d_mar,d_apr,d_may,d_jun,d_jul,d_aug,d_sep,d_oct,d_nov,d_dec],left:1484,top:1323,vmin:0,vmax:100,ticks:rmseTicks},
  e:{rows:[e_jan,e_feb,e_mar,e_apr,e_may,e_jun,e_jul,e_aug,e_sep,e_oct,e_nov,e_dec],left:273,top:2260,vmin:0,vmax:30,ticks:nrmseTicks},
  f:{rows:[f_jan,f_feb,f_mar,f_apr,f_may,f_jun,f_jul,f_aug,f_sep,f_oct,f_nov,f_dec],left:1484,top:2260,vmin:0,vmax:30,ticks:nrmseTicks}
};
const PW = 805, PH = 750, CBW = 38, CBGAP = 855;
const SVGNS = 'http://www.w3.org/2000/svg';
const root = document.getElementById('panels');
const defs = document.querySelector('defs');

function interp(points, t) {
  for (let i = 1; i < points.length; i++) {
    if (t <= points[i][0]) {
      const a = points[i-1], b = points[i];
      return a[1] + (b[1]-a[1]) * (t-a[0]) / (b[0]-a[0]);
    }
  }
  return points[points.length-1][1];
}
function jet(t) {
  t = Math.max(0, Math.min(1, t));
  const r = interp([[0,0],[.35,0],[.66,1],[.89,1],[1,.5]], t);
  const g = interp([[0,0],[.125,0],[.375,1],[.64,1],[.91,0],[1,0]], t);
  const b = interp([[0,.5],[.11,1],[.34,1],[.65,0],[1,0]], t);
  return 'rgb(' + Math.round(r*255) + ',' + Math.round(g*255) + ',' + Math.round(b*255) + ')';
}
function make(tag, attrs, parent) {
  const el = document.createElementNS(SVGNS, tag);
  for (const k in attrs) el.setAttribute(k, attrs[k]);
  parent.appendChild(el);
  return el;
}

panelColumns.forEach(function (key) {
  const p = layouts[key];
  const xScale = function (hour) { return p.left + hour / 24 * PW; };
  const yScale = function (month) { return p.top + PH - month / 12 * PH; };
  const cbScale = function (v) { return p.top + PH - (v - p.vmin) / (p.vmax - p.vmin) * PH; };
  const colorScale = function (v) { return jet((v - p.vmin) / (p.vmax - p.vmin)); };

  const g = make('g', {}, root);
  
  

  const heat = make('g', {filter: 'url(#soft)'}, g);
  
  
  p.rows.forEach(function (row, m) {
    row.forEach(function (v, c) {
      if (v === null) return;
      const x0 = xScale(c * 0.25), x1 = xScale((c + 1) * 0.25);
      const y0 = yScale(m + 1), y1 = yScale(m);
      const cell = make('rect', {x: x0, y: y0, width: x1 - x0 + 0.4, height: y1 - y0 + 0.4, fill: colorScale(v)}, heat);
      
      
    });
  });

  const frame = make('rect', {x: p.left, y: p.top, width: PW, height: PH, fill: 'none', stroke: '#8a8a8a', 'stroke-width': 2}, g);
  
  

  hourTickLabels.forEach(function (h) {
    const tick = make('line', {x1: xScale(h), x2: xScale(h), y1: p.top + PH, y2: p.top + PH + 6, stroke: '#555', 'stroke-width': 2}, g);
    
    
    const label = make('text', {x: xScale(h), y: p.top + PH + 33, 'text-anchor': 'middle', 'font-size': 32, class: 'sans'}, g);
    
    
    label.textContent = h;
  });
  monthLabels.forEach(function (name, m) {
    const yc = yScale(m + 0.5);
    const tick = make('line', {x1: p.left - 6, x2: p.left, y1: yc, y2: yc, stroke: '#555', 'stroke-width': 2}, g);
    
    
    const label = make('text', {x: p.left - 9, y: yc + 11, 'text-anchor': 'end', 'font-size': 32, class: 'sans'}, g);
    
    
    label.textContent = name;
  });

  const xTitle = make('text', {x: xScale(12), y: p.top + PH + 70, 'text-anchor': 'middle', 'font-size': 32, class: 'sans'}, g);
  
  
  xTitle.textContent = 'Hour LT';
  const yTitle = make('text', {transform: 'translate(' + (p.left - 90) + ',' + (p.top + PH / 2) + ') rotate(-90)', 'text-anchor': 'middle', 'font-size': 32, class: 'sans'}, g);
  
  
  yTitle.textContent = 'Month';

  const grad = make('linearGradient', {id: 'cb-' + key, x1: 0, y1: 1, x2: 0, y2: 0}, defs);
  for (let i = 0; i <= 64; i++) {
    make('stop', {offset: i / 64, 'stop-color': jet(i / 64)}, grad);
  }
  const cbLeft = p.left + CBGAP;
  const bar = make('rect', {x: cbLeft, y: p.top, width: CBW, height: PH, fill: 'url(#cb-' + key + ')', stroke: '#8a8a8a', 'stroke-width': 2}, g);
  
  
  p.ticks.forEach(function (v) {
    const y = cbScale(v);
    const tick = make('line', {x1: cbLeft + CBW, x2: cbLeft + CBW + 5, y1: y, y2: y, stroke: '#555', 'stroke-width': 2}, g);
    
    
    const label = make('text', {x: cbLeft + CBW + 9, y: y + 12, 'font-size': 32, class: 'sans'}, g);
    
    
    label.textContent = String(v).replace('-', '\u2212');
  });
});
</script>
</body>
</html>
